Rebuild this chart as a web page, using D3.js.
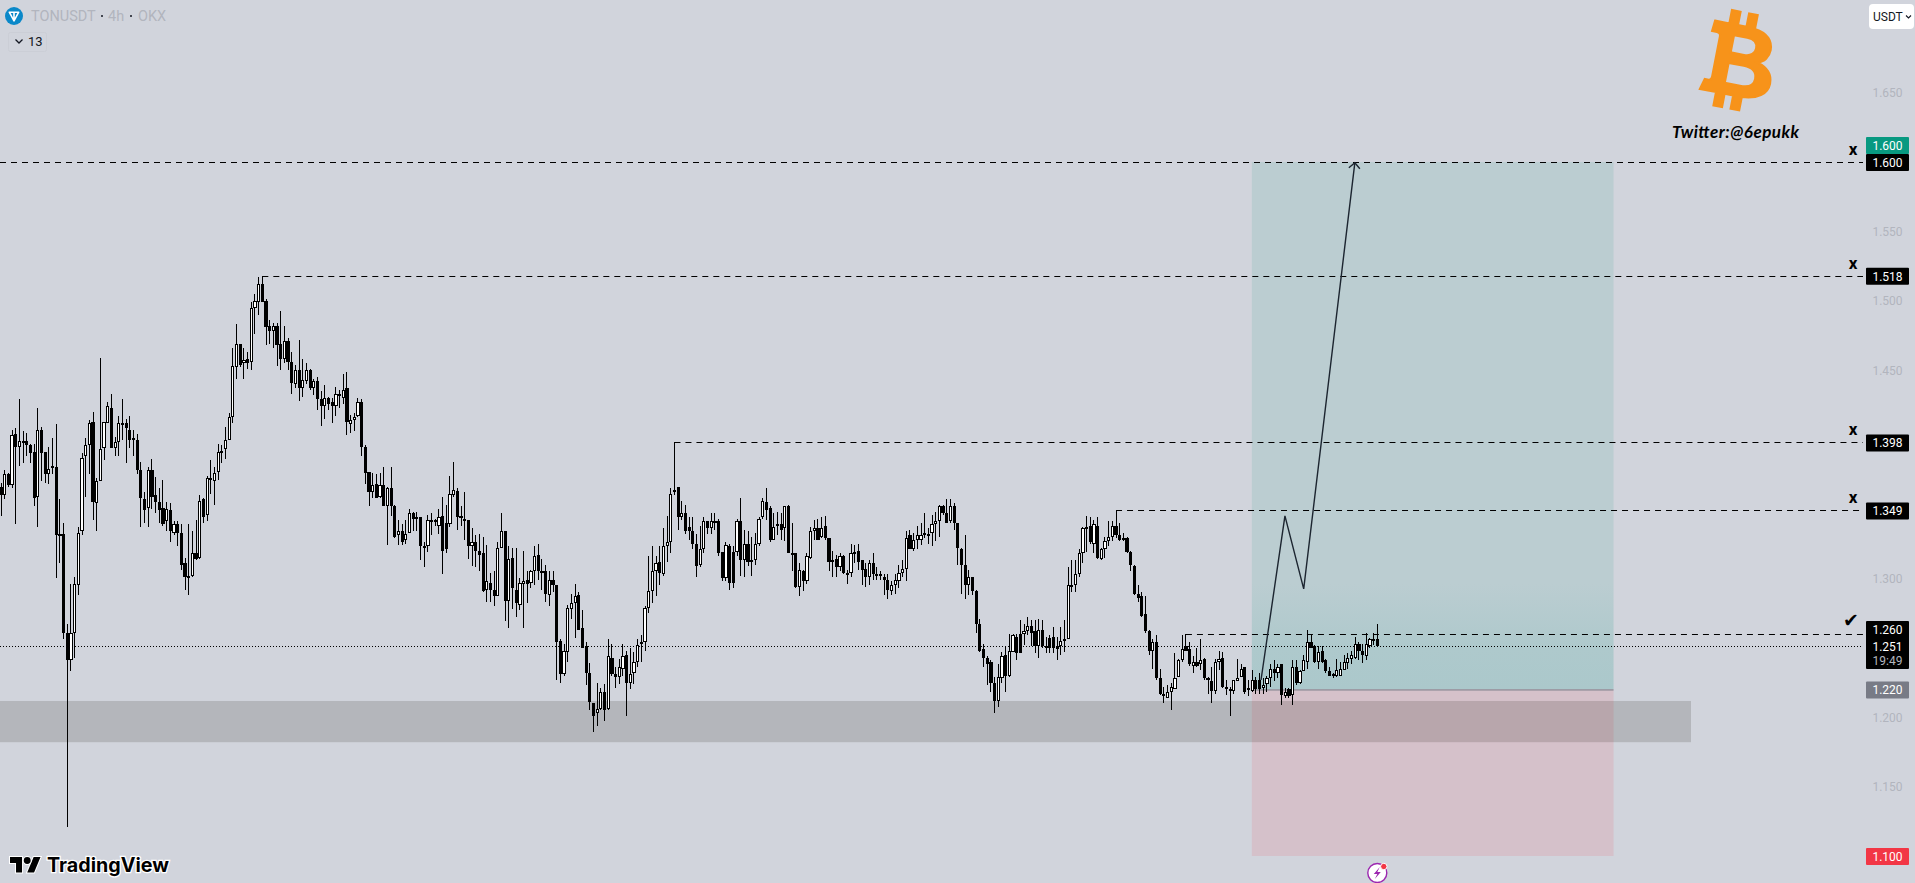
<!DOCTYPE html>
<html>
<head>
<meta charset="utf-8">
<script src="https://cdn.jsdelivr.net/npm/d3@7/dist/d3.min.js"></script>
<style>
html,body{margin:0;padding:0;background:#d1d4dc;overflow:hidden}
svg{display:block}
text{font-family:Roboto,"Liberation Sans",sans-serif}
</style>
</head>
<body>
<svg id="chart" width="1915" height="883"></svg>
<script>
const highs=[
1.369,1.378,1.376,1.407,1.408,1.429,1.406,1.405,1.397,1.397,
1.423,1.409,1.391,1.395,1.401,1.411,1.357,1.340,1.267,1.296,
1.301,1.337,1.390,1.401,1.414,1.420,1.372,1.459,1.413,1.427,
1.433,1.402,1.417,1.429,1.415,1.417,1.407,1.404,1.384,1.362,
1.380,1.386,1.373,1.365,1.371,1.355,1.354,1.341,1.341,1.339,
1.315,1.339,1.334,1.342,1.360,1.358,1.374,1.385,1.380,1.397,
1.396,1.409,1.419,1.466,1.483,1.469,1.466,1.463,1.499,1.505,
1.517,1.518,1.501,1.486,1.484,1.484,1.493,1.482,1.473,1.463,
1.454,1.472,1.458,1.455,1.451,1.444,1.445,1.435,1.439,1.431,
1.430,1.438,1.436,1.447,1.449,1.418,1.419,1.430,1.429,1.396,
1.377,1.376,1.375,1.376,1.380,1.366,1.380,1.353,1.342,1.339,
1.342,1.350,1.348,1.348,1.344,1.326,1.346,1.347,1.343,1.350,
1.359,1.353,1.374,1.384,1.365,1.352,1.362,1.342,1.336,1.331,
1.332,1.330,1.324,1.304,1.305,1.326,1.347,1.334,1.323,1.322,
1.322,1.300,1.320,1.305,1.306,1.323,1.325,1.314,1.310,1.305,
1.305,1.295,1.256,1.253,1.281,1.289,1.296,1.290,1.277,1.254,
1.239,1.210,1.225,1.221,1.224,1.256,1.253,1.236,1.242,1.253,
1.248,1.250,1.247,1.256,1.259,1.280,1.316,1.323,1.316,1.323,
1.336,1.345,1.365,1.398,1.366,1.356,1.353,1.344,1.344,1.332,
1.338,1.344,1.341,1.347,1.347,1.343,1.319,1.326,1.325,1.323,
1.343,1.358,1.335,1.334,1.330,1.333,1.344,1.358,1.365,1.352,
1.347,1.348,1.347,1.352,1.353,1.340,1.318,1.311,1.306,1.318,
1.337,1.342,1.343,1.344,1.345,1.329,1.320,1.317,1.318,1.317,
1.306,1.325,1.324,1.325,1.313,1.311,1.313,1.318,1.308,1.305,
1.303,1.303,1.298,1.303,1.310,1.313,1.334,1.335,1.333,1.338,
1.340,1.347,1.336,1.346,1.348,1.353,1.353,1.357,1.357,1.354,
1.340,1.322,1.331,1.306,1.301,1.292,1.271,1.253,1.244,1.241,
1.229,1.238,1.247,1.251,1.260,1.260,1.260,1.270,1.267,1.272,
1.270,1.270,1.271,1.270,1.258,1.259,1.265,1.258,1.265,1.270,
1.308,1.313,1.313,1.321,1.337,1.345,1.344,1.342,1.344,1.322,
1.330,1.341,1.341,1.349,1.340,1.333,1.330,1.320,1.310,1.295,
1.290,1.287,1.263,1.256,1.259,1.235,1.222,1.223,1.225,1.246,
1.242,1.259,1.260,1.254,1.244,1.250,1.256,1.243,1.229,1.236,
1.242,1.248,1.247,1.227,1.222,1.227,1.242,1.238,1.236,1.227,
1.234,1.229,1.232,1.228,1.230,1.238,1.241,1.238,1.238,1.221,
1.221,1.241,1.241,1.234,1.245,1.263,1.260,1.252,1.251,1.251,
1.242,1.236,1.232,1.242,1.240,1.245,1.246,1.248,1.258,1.254,
1.253,1.261,1.257,1.261,1.267];
const bodyTops=[
1.366,1.375,1.375,1.403,1.404,1.399,1.399,1.399,1.396,1.391,
1.407,1.407,1.391,1.379,1.381,1.380,1.332,1.332,1.261,1.261,
1.296,1.333,1.387,1.396,1.412,1.413,1.370,1.393,1.413,1.424,
1.423,1.398,1.412,1.412,1.412,1.407,1.401,1.400,1.378,1.357,
1.378,1.378,1.360,1.355,1.351,1.350,1.349,1.339,1.339,1.333,
1.311,1.302,1.318,1.318,1.356,1.357,1.372,1.372,1.376,1.391,
1.392,1.400,1.416,1.453,1.469,1.469,1.457,1.458,1.495,1.500,
1.512,1.512,1.500,1.482,1.482,1.482,1.469,1.471,1.471,1.456,
1.450,1.450,1.443,1.450,1.450,1.442,1.442,1.429,1.430,1.430,
1.427,1.433,1.433,1.436,1.437,1.414,1.416,1.427,1.427,1.395,
1.377,1.367,1.368,1.367,1.367,1.365,1.365,1.352,1.334,1.334,
1.332,1.347,1.347,1.344,1.344,1.323,1.342,1.342,1.342,1.344,
1.345,1.340,1.361,1.364,1.363,1.345,1.343,1.342,1.326,1.326,
1.320,1.318,1.298,1.297,1.292,1.322,1.334,1.334,1.314,1.315,
1.292,1.297,1.298,1.299,1.305,1.316,1.317,1.305,1.305,1.299,
1.299,1.295,1.255,1.248,1.279,1.282,1.287,1.288,1.264,1.251,
1.232,1.210,1.206,1.218,1.218,1.244,1.243,1.231,1.236,1.244,
1.245,1.231,1.240,1.252,1.254,1.279,1.291,1.305,1.311,1.312,
1.323,1.326,1.361,1.364,1.366,1.347,1.347,1.337,1.334,1.325,
1.321,1.341,1.341,1.341,1.341,1.341,1.319,1.324,1.323,1.319,
1.341,1.341,1.325,1.325,1.313,1.325,1.343,1.356,1.355,1.351,
1.337,1.339,1.339,1.352,1.352,1.318,1.318,1.306,1.305,1.316,
1.334,1.336,1.336,1.336,1.338,1.329,1.313,1.314,1.316,1.316,
1.304,1.318,1.319,1.320,1.313,1.307,1.311,1.311,1.303,1.303,
1.301,1.299,1.295,1.299,1.304,1.307,1.329,1.331,1.328,1.331,
1.331,1.333,1.332,1.339,1.341,1.352,1.352,1.347,1.352,1.352,
1.340,1.321,1.310,1.301,1.301,1.291,1.267,1.249,1.243,1.240,
1.225,1.229,1.244,1.245,1.248,1.259,1.258,1.260,1.262,1.266,
1.266,1.262,1.263,1.263,1.251,1.257,1.258,1.251,1.255,1.256,
1.295,1.295,1.303,1.318,1.336,1.337,1.338,1.339,1.338,1.321,
1.327,1.330,1.338,1.338,1.331,1.329,1.329,1.319,1.309,1.289,
1.287,1.274,1.262,1.254,1.254,1.228,1.217,1.218,1.222,1.228,
1.241,1.249,1.251,1.249,1.240,1.240,1.241,1.242,1.228,1.226,
1.240,1.242,1.243,1.222,1.220,1.227,1.228,1.235,1.236,1.221,
1.227,1.227,1.227,1.223,1.228,1.235,1.235,1.236,1.238,1.218,
1.220,1.236,1.236,1.233,1.241,1.254,1.254,1.251,1.247,1.248,
1.241,1.233,1.231,1.234,1.235,1.240,1.243,1.245,1.253,1.253,
1.248,1.253,1.256,1.256,1.256];
const bodyBottoms=[
1.360,1.360,1.367,1.367,1.395,1.395,1.398,1.396,1.390,1.358,
1.359,1.390,1.375,1.375,1.380,1.331,1.331,1.261,1.241,1.241,
1.261,1.295,1.334,1.388,1.396,1.355,1.354,1.370,1.394,1.412,
1.394,1.394,1.398,1.411,1.408,1.400,1.400,1.378,1.358,1.349,
1.351,1.359,1.355,1.349,1.339,1.341,1.334,1.333,1.333,1.310,
1.301,1.300,1.302,1.314,1.315,1.344,1.346,1.372,1.370,1.377,
1.390,1.393,1.400,1.416,1.452,1.454,1.455,1.455,1.456,1.495,
1.499,1.499,1.481,1.478,1.478,1.468,1.458,1.458,1.456,1.441,
1.440,1.437,1.437,1.442,1.437,1.437,1.429,1.424,1.424,1.426,
1.424,1.424,1.432,1.430,1.413,1.411,1.414,1.417,1.395,1.376,
1.362,1.362,1.358,1.359,1.352,1.352,1.352,1.330,1.331,1.326,
1.328,1.333,1.343,1.343,1.323,1.323,1.323,1.341,1.341,1.338,
1.320,1.321,1.339,1.360,1.344,1.344,1.342,1.323,1.323,1.320,
1.317,1.291,1.292,1.292,1.287,1.287,1.322,1.284,1.284,1.293,
1.282,1.281,1.296,1.296,1.297,1.305,1.305,1.305,1.289,1.288,
1.295,1.254,1.231,1.231,1.247,1.278,1.282,1.263,1.250,1.232,
1.211,1.201,1.203,1.206,1.205,1.206,1.231,1.229,1.229,1.235,
1.225,1.225,1.232,1.240,1.253,1.254,1.279,1.291,1.305,1.304,
1.303,1.323,1.326,1.362,1.344,1.344,1.334,1.334,1.325,1.309,
1.310,1.321,1.336,1.336,1.340,1.318,1.300,1.300,1.297,1.297,
1.319,1.313,1.313,1.312,1.312,1.313,1.325,1.344,1.349,1.328,
1.328,1.338,1.335,1.336,1.318,1.317,1.294,1.294,1.298,1.298,
1.315,1.334,1.328,1.330,1.329,1.312,1.312,1.308,1.308,1.304,
1.303,1.304,1.318,1.312,1.306,1.301,1.301,1.303,1.302,1.302,
1.299,1.292,1.291,1.295,1.298,1.304,1.307,1.321,1.321,1.328,
1.328,1.332,1.331,1.333,1.339,1.341,1.347,1.340,1.341,1.340,
1.322,1.310,1.295,1.295,1.291,1.267,1.248,1.243,1.238,1.225,
1.212,1.212,1.228,1.230,1.230,1.247,1.246,1.246,1.260,1.262,
1.261,1.251,1.251,1.251,1.250,1.250,1.250,1.249,1.251,1.255,
1.256,1.294,1.295,1.303,1.318,1.336,1.326,1.325,1.315,1.314,
1.321,1.327,1.330,1.331,1.328,1.328,1.319,1.310,1.289,1.286,
1.273,1.262,1.248,1.248,1.228,1.217,1.215,1.214,1.218,1.220,
1.229,1.241,1.248,1.238,1.237,1.237,1.238,1.228,1.227,1.219,
1.219,1.240,1.222,1.220,1.219,1.219,1.226,1.229,1.218,1.220,
1.219,1.220,1.220,1.221,1.224,1.228,1.232,1.232,1.216,1.215,
1.215,1.216,1.225,1.225,1.233,1.240,1.250,1.240,1.240,1.240,
1.233,1.230,1.230,1.230,1.230,1.234,1.239,1.242,1.243,1.248,
1.245,1.244,1.251,1.255,1.251];
const lows=[
1.345,1.357,1.366,1.365,1.339,1.381,1.383,1.388,1.383,1.352,
1.337,1.370,1.369,1.368,1.375,1.300,1.311,1.256,1.121,1.233,
1.243,1.288,1.331,1.359,1.375,1.342,1.334,1.370,1.385,1.412,
1.394,1.388,1.388,1.400,1.383,1.394,1.388,1.375,1.337,1.340,
1.337,1.350,1.347,1.340,1.338,1.334,1.326,1.331,1.323,1.306,
1.292,1.288,1.301,1.313,1.314,1.340,1.341,1.361,1.353,1.371,
1.383,1.386,1.400,1.412,1.444,1.452,1.444,1.451,1.450,1.476,
1.490,1.499,1.468,1.469,1.466,1.453,1.450,1.455,1.450,1.433,
1.437,1.428,1.431,1.440,1.436,1.432,1.421,1.410,1.415,1.421,
1.412,1.417,1.423,1.426,1.403,1.405,1.406,1.416,1.388,1.368,
1.352,1.358,1.358,1.358,1.352,1.324,1.345,1.329,1.324,1.324,
1.325,1.333,1.334,1.334,1.313,1.308,1.319,1.331,1.338,1.332,
1.303,1.318,1.337,1.359,1.335,1.338,1.328,1.314,1.309,1.308,
1.305,1.290,1.283,1.283,1.280,1.287,1.322,1.269,1.264,1.278,
1.272,1.277,1.264,1.282,1.293,1.295,1.299,1.292,1.283,1.280,
1.290,1.227,1.225,1.230,1.240,1.271,1.257,1.263,1.250,1.223,
1.205,1.189,1.194,1.205,1.197,1.205,1.230,1.221,1.224,1.230,
1.201,1.220,1.224,1.236,1.240,1.248,1.275,1.282,1.287,1.295,
1.302,1.312,1.318,1.360,1.335,1.342,1.332,1.328,1.321,1.301,
1.308,1.318,1.332,1.332,1.335,1.316,1.298,1.298,1.292,1.293,
1.316,1.302,1.301,1.309,1.302,1.310,1.323,1.343,1.342,1.326,
1.328,1.331,1.328,1.327,1.318,1.305,1.293,1.287,1.291,1.296,
1.314,1.328,1.328,1.329,1.328,1.305,1.301,1.301,1.305,1.303,
1.296,1.301,1.311,1.306,1.295,1.294,1.295,1.299,1.299,1.299,
1.288,1.285,1.288,1.289,1.293,1.301,1.298,1.321,1.320,1.321,
1.324,1.329,1.325,1.323,1.327,1.330,1.346,1.340,1.340,1.335,
1.310,1.289,1.285,1.288,1.288,1.261,1.247,1.236,1.223,1.218,
1.203,1.207,1.225,1.218,1.229,1.247,1.241,1.246,1.252,1.259,
1.251,1.246,1.243,1.250,1.246,1.246,1.246,1.241,1.245,1.247,
1.256,1.290,1.290,1.301,1.311,1.319,1.325,1.318,1.314,1.313,
1.315,1.323,1.327,1.329,1.327,1.327,1.318,1.305,1.288,1.283,
1.272,1.261,1.245,1.235,1.227,1.216,1.210,1.214,1.205,1.220,
1.229,1.240,1.248,1.237,1.232,1.236,1.234,1.227,1.217,1.210,
1.217,1.234,1.221,1.216,1.201,1.217,1.226,1.229,1.217,1.215,
1.218,1.217,1.217,1.217,1.218,1.222,1.226,1.228,1.209,1.214,
1.214,1.209,1.223,1.224,1.233,1.235,1.250,1.239,1.235,1.239,
1.232,1.230,1.228,1.229,1.230,1.234,1.235,1.238,1.242,1.241,
1.239,1.241,1.250,1.252,1.251];
const rising=[
0,1,0,1,0,1,0,0,0,0,
1,0,0,1,0,0,0,0,0,1,
1,1,1,1,1,0,1,1,1,1,
0,1,1,0,0,0,0,0,0,0,
1,0,0,0,0,1,0,1,0,0,
0,1,1,0,1,0,1,0,1,1,
1,1,1,1,1,0,1,0,1,1,
1,0,0,0,1,0,0,1,0,0,
1,0,1,1,0,1,0,0,1,0,
0,1,0,1,0,1,1,1,0,0,
0,1,0,1,0,1,0,0,1,0,
1,1,0,0,0,0,1,0,0,1,
0,0,1,1,0,0,0,0,1,0,
0,0,1,0,0,1,1,0,1,0,
0,1,1,0,1,1,0,0,0,1,
0,0,0,1,1,1,1,0,0,0,
0,0,1,1,0,1,0,0,1,1,
0,1,1,1,0,1,1,1,1,0,
1,1,1,1,0,1,0,0,0,0,
1,1,0,1,0,0,0,1,0,0,
1,0,1,0,0,1,1,1,0,0,
1,0,0,1,0,0,0,1,0,1,
1,1,0,1,0,0,0,0,1,0,
0,1,0,0,0,0,1,0,0,0,
0,0,1,1,1,1,1,0,1,1,
1,1,0,1,1,1,0,0,1,0,
0,0,0,1,0,0,0,0,0,0,
0,1,1,0,1,1,0,0,1,1,
0,0,1,0,0,0,0,0,1,1,
1,1,1,1,1,1,0,1,0,1,
1,1,1,0,0,0,0,0,0,0,
0,0,0,1,0,0,0,1,1,1,
1,1,0,0,1,0,1,0,0,0,
1,1,0,0,0,1,1,1,0,0,
1,0,0,1,1,1,0,1,0,1,
0,1,0,1,1,1,0,0,1,0,
0,0,0,1,1,1,1,1,1,0,
0,1,1,0,0];

const lastBar = highs.length - 1;
const tickPrices = [1.65,1.55,1.5,1.45,1.3,1.2,1.15];
// horizontal target lines: start bar, price
const targetStartBars = [null,71,183,303,322];
const targetPrices = [1.6,1.518,1.398,1.349,1.26];
const targetMarks = ["x","x","x","x","✔"];
const currentPrice = 1.251;
const entryPrice = 1.22, targetPrice = 1.6, stopPrice = 1.1;
const zoneBars = [339.9, 438.2];
const supportBand = [1.182, 1.2117];
const pathBars = [342.4, 348.9, 354, 367.9];
const pathPrices = [1.2268, 1.345, 1.2924, 1.5995];

[bodyTops,bodyBottoms,lows,rising].forEach(a=>{ if(a.length!==highs.length) throw new Error("length "+a.length+" vs "+highs.length); });

const svg = d3.select("#chart");
const x = d3.scaleLinear().domain([0,lastBar]).range([1.06,1377.3]);
const y = d3.scaleLinear().domain([1.1,1.6]).range([856,162]);
const bars = d3.range(highs.length);
const chartRight = 1863;

const defs = svg.append("defs");
const grad = defs.append("linearGradient").attr("id","teal").attr("x1",0).attr("x2",0).attr("y1",0).attr("y2",1);
grad.append("stop").attr("offset","0.8").attr("stop-color","#bbcdd1");
grad.append("stop").attr("offset","0.92").attr("stop-color","#aec9cc");
grad.append("stop").attr("offset","1").attr("stop-color","#abc8cb");

// position tool
svg.append("rect").attr("x",x(zoneBars[0])).attr("width",x(zoneBars[1])-x(zoneBars[0]))
  .attr("y",y(targetPrice)).attr("height",y(entryPrice)-y(targetPrice)).attr("fill","url(#teal)");
svg.append("rect").attr("x",x(zoneBars[0])).attr("width",x(zoneBars[1])-x(zoneBars[0]))
  .attr("y",y(entryPrice)).attr("height",y(stopPrice)-y(entryPrice)).attr("fill","#d5c1ca");
svg.append("rect").attr("x",0).attr("width",1691).attr("y",y(supportBand[1])).attr("height",y(supportBand[0])-y(supportBand[1]))
  .attr("fill","#140c00").attr("fill-opacity",0.15);
svg.append("line").attr("x1",x(zoneBars[0])).attr("x2",x(zoneBars[1])).attr("y1",y(entryPrice)+0.5).attr("y2",y(entryPrice)+0.5)
  .attr("stroke","#787b86").attr("stroke-width",1);

// dotted current price line
svg.append("line").attr("x1",0).attr("x2",chartRight).attr("y1",Math.round(y(currentPrice))+0.5).attr("y2",Math.round(y(currentPrice))+0.5)
  .attr("stroke","#000").attr("stroke-dasharray","1 2");

// candles
const candles = svg.append("g").attr("shape-rendering","crispEdges");
candles.selectAll("rect.wick").data(bars).join("rect").attr("class","wick")
  .attr("x",i=>Math.round(x(i)-0.5)).attr("width",1)
  .attr("y",i=>Math.round(y(highs[i])))
  .attr("height",i=>Math.max(1,Math.round(y(lows[i]))-Math.round(y(highs[i]))))
  .attr("fill","#000");
const bodyL=i=>Math.round(x(i)-1.6), bodyR=i=>Math.round(x(i)+1.6);
const bodyT=i=>Math.round(y(bodyTops[i])), bodyB=i=>Math.max(Math.round(y(bodyBottoms[i])),bodyT(i)+2);
candles.selectAll("rect.body").data(bars).join("rect").attr("class","body")
  .attr("x",bodyL).attr("width",i=>bodyR(i)-bodyL(i))
  .attr("y",bodyT).attr("height",i=>bodyB(i)-bodyT(i))
  .attr("fill","#000");
candles.selectAll("rect.hollow").data(bars.filter(i=>rising[i])).join("rect").attr("class","hollow")
  .attr("x",i=>bodyL(i)+1).attr("width",i=>bodyR(i)-bodyL(i)-2)
  .attr("y",i=>bodyT(i)+1).attr("height",i=>Math.max(0,bodyB(i)-bodyT(i)-2))
  .attr("fill","#fff");

// dashed target lines
svg.append("g").selectAll("line").data(targetPrices).join("line")
  .attr("x1",(d,i)=>targetStartBars[i]===null?0:x(targetStartBars[i]))
  .attr("x2",chartRight)
  .attr("y1",d=>Math.round(y(d))+0.5).attr("y2",d=>Math.round(y(d))+0.5)
  .attr("stroke","#000").attr("stroke-dasharray","6 5");

// marks
svg.append("g").selectAll("text").data(targetPrices).join("text")
  .attr("x",(d,i)=>i==4?1851:1853).attr("y",(d,i)=>y(d)-7)
  .attr("text-anchor","middle")
  .style("font-family",(d,i)=>i==4?"'DejaVu Sans'":"Roboto")
  .attr("font-weight",700).attr("font-size",(d,i)=>i==4?19:17).attr("fill","#000")
  .text((d,i)=>targetMarks[i]);

// path with arrow head
const line = d3.line().x((d,i)=>x(pathBars[i])).y((d,i)=>y(pathPrices[i]));
svg.append("path").attr("d",line(pathBars)).attr("fill","none").attr("stroke","#1c2530").attr("stroke-width",1.4);
const tipX=x(pathBars[3]), tipY=y(pathPrices[3]);
svg.append("path").attr("d",`M${tipX-6},${tipY+5}L${tipX},${tipY}L${tipX+5},${tipY+6}`).attr("fill","none").attr("stroke","#1c2530").attr("stroke-width",1.4);

// price axis
const axis = d3.axisRight(y).tickValues(tickPrices).tickSize(0).tickFormat(d3.format(".3f"));
const axisG = svg.append("g").attr("transform","translate(1887.5,0)").call(axis);
axisG.select(".domain").remove();
axisG.selectAll("text").attr("x",0).attr("text-anchor","middle").attr("font-size",12).style("font-family","Roboto").attr("fill","#b2b5be");

// price labels
const lblX=1866,lblW=43,lblH=17;
function priceLabel(cy,fill,txt){
  svg.append("rect").attr("x",lblX).attr("y",cy-lblH/2).attr("width",lblW).attr("height",lblH).attr("rx",1).attr("fill",fill);
  svg.append("text").attr("x",lblX+lblW/2).attr("y",cy+4.4).attr("text-anchor","middle").attr("font-size",12).attr("fill","#fff").text(txt);
}
const fmt=d3.format(".3f");
priceLabel(y(1.6)-16.5,"#089981",fmt(1.6));
priceLabel(y(1.6)+0.5,"#000",fmt(1.6));
priceLabel(y(1.518)+0.5,"#000",fmt(1.518));
priceLabel(y(1.398)+0.5,"#000",fmt(1.398));
priceLabel(y(1.349)+0.5,"#000",fmt(1.349));
priceLabel(y(entryPrice)+0.5,"#787b86",fmt(entryPrice));
priceLabel(y(stopPrice)+0.5,"#f23645",fmt(stopPrice));
svg.append("rect").attr("x",lblX).attr("y",621).attr("width",lblW).attr("height",48).attr("rx",1).attr("fill","#000");
[[634,fmt(1.26),"#fff"],[651,fmt(currentPrice),"#fff"],[664.5,"19:49","#b2b5be"]].forEach(r=>{
  svg.append("text").attr("x",lblX+lblW/2).attr("y",r[0]).attr("text-anchor","middle").attr("font-size",12).attr("fill",r[2]).text(r[1]);
});

// USDT button
svg.append("rect").attr("x",1869).attr("y",4).attr("width",45).attr("height",25).attr("rx",4).attr("fill","#fff");
svg.append("text").attr("x",1873).attr("y",21).attr("font-size",12).attr("fill","#131722").text("USDT");
svg.append("path").attr("d","M1906,15.5l2.5,2.5l2.5,-2.5").attr("fill","none").attr("stroke","#131722").attr("stroke-width",1.1);

// legend
svg.append("circle").attr("cx",14).attr("cy",16).attr("r",9).attr("fill","#0a88c9");
svg.append("path").attr("d","M9.3,12.2H18.7L14,20.8ZM14,12.2V20.8").attr("fill","none").attr("stroke","#fff").attr("stroke-width",1.6).attr("stroke-linejoin","round");
const legend=[[31,"TONUSDT"],[108,"4h"],[138,"OKX"]];
svg.append("g").selectAll("text").data(legend).join("text").attr("x",d=>d[0]).attr("y",21).attr("font-size",14.5).attr("fill","#b2b5be").text(d=>d[1]);
svg.append("g").selectAll("circle").data([102,131]).join("circle").attr("cx",d=>d).attr("cy",16).attr("r",1).attr("fill","#131722");
svg.append("rect").attr("x",8.5).attr("y",32.5).attr("width",38).attr("height",19).attr("rx",2).attr("fill","none").attr("stroke","#cbced6");
svg.append("path").attr("d","M15.5,39.5l3.5,3.5l3.5,-3.5").attr("fill","none").attr("stroke","#131722").attr("stroke-width",1.3);
svg.append("text").attr("x",28).attr("y",46).attr("font-size",13).attr("fill","#131722").text("13");

// bitcoin glyph
svg.append("path")
  .attr("transform","translate(1737,60.5) rotate(11) scale(0.97) translate(-40,-50)")
  .attr("fill-rule","evenodd").attr("fill","#f7931a").attr("stroke","#f7931a").attr("stroke-width",2.2)
  .attr("d","M10 14 L25 14 L25 0 L34 0 L34 14 L43 14 L43 0 L52 0 L52 14.5 C66 16 72 24 72 33 C72 40 68 46 61 48 C72 51 78 58 78 67 C78 78 68 85 52 86 L52 100 L43 100 L43 86 L34 86 L34 100 L25 100 L25 86 L8 86 L11 75 L15 75 C17 75 18 74 18 71 L18 29 C18 26 17 25 14 25 L9 25 Z M32 25 L46 25 C54 25 57 29 57 34 C57 39 53 43 46 43 L32 43 Z M32 54 L48 54 C57 54 62 58 62 65 C62 71 57 75 48 75 L32 75 Z");
svg.append("text").attr("x",1672).attr("y",138).attr("textLength",127).attr("lengthAdjust","spacing")
  .style("font-family","Lato,'Open Sans',sans-serif").attr("font-style","italic").attr("font-weight",700).attr("font-size",17).attr("fill","#000")
  .text("Twitter:@6epukk");

// TradingView logo
const tv=svg.append("g").attr("transform","translate(10,853.6) scale(0.86)");
tv.append("path").attr("d","M14 22H7V11H0V4h14v18ZM28 22h-8l7.5-18h8L28 22Z").attr("fill","#000").attr("stroke","#fff").attr("stroke-width",2.4).attr("paint-order","stroke");
tv.append("circle").attr("cx",20).attr("cy",8).attr("r",4).attr("fill","#000").attr("stroke","#fff").attr("stroke-width",2.4).attr("paint-order","stroke");
svg.append("text").attr("x",47).attr("y",872).attr("textLength",122).attr("lengthAdjust","spacingAndGlyphs")
  .style("font-family","Inter,Roboto,sans-serif").attr("font-weight",700).attr("font-size",20).attr("fill","#000")
  .attr("stroke","#fff").attr("stroke-width",2.6).attr("paint-order","stroke").text("TradingView");

// lightning badge
const boltX=x(lastBar), boltY=873;
svg.append("circle").attr("cx",boltX).attr("cy",boltY).attr("r",9.5).attr("fill","#fff").attr("stroke","#9c27b0").attr("stroke-width",1.4);
svg.append("path").attr("d",`M${boltX+2.5},${boltY-6}L${boltX-3.5},${boltY+1}H${boltX}L${boltX-2.5},${boltY+6}L${boltX+3.5},${boltY-1}H${boltX}Z`).attr("fill","#9c27b0");
svg.append("circle").attr("cx",boltX+6.5).attr("cy",boltY-6.5).attr("r",3.2).attr("fill","#f23645").attr("stroke","#fff");
</script>
</body>
</html>
